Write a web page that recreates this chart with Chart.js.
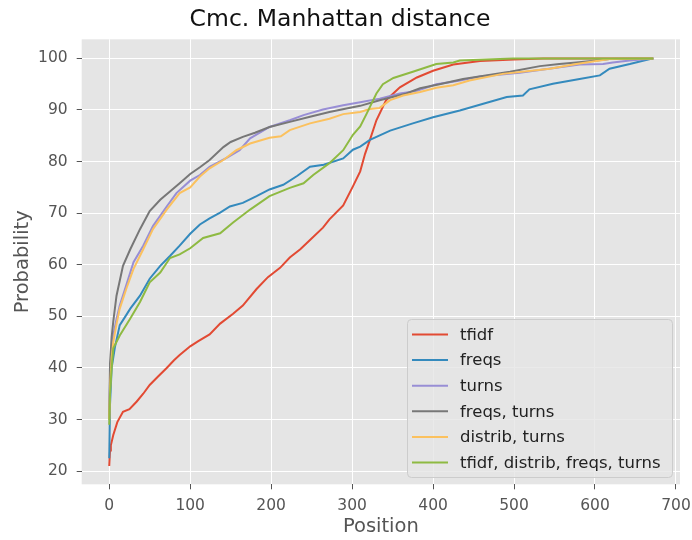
<!DOCTYPE html>
<html>
<head>
<meta charset="utf-8">
<script src="https://cdn.jsdelivr.net/npm/chart.js@4"></script>
<style>
  html,body{margin:0;padding:0;background:#fff;}
  #c{display:block;}
</style>
</head>
<body>
<canvas id="c" width="692" height="540"></canvas>
<script>
// ─── DATA (position, probability %) ──────────────────────────────────────────
const tfidf=[[0,21],[1,24],[2,25],[5,27],[10,29.5],[17,31.5],[25,32],[34,33.5],[42,35],[50,36.7],[60,38.3],[71,40],[80,41.5],[87,42.5],[100,44.2],[110,45.2],[124,46.5],[137,48.6],[153,50.5],[165,52.1],[182,55.3],[196,57.6],[211,59.4],[223,61.4],[236,63],[248,64.8],[264,67.2],[272,68.8],[289,71.5],[301,75.2],[310,78.1],[316,81.5],[322,84.2],[330,88],[342,91.9],[359,94.4],[380,96.3],[400,97.6],[425,98.8],[458,99.5],[500,99.8],[536,100],[672,100]];
const freqs=[[0,22.5],[1,33],[3,40],[7,44],[13,48.3],[20,50],[26,51.5],[38,54],[50,57.3],[63,59.8],[75,61.7],[87,63.7],[100,66],[112,67.8],[124,69],[137,70.1],[149,71.3],[165,72],[182,73.3],[198,74.6],[215,75.5],[232,77.2],[248,79],[265,79.4],[289,80.6],[301,82.3],[310,82.9],[322,84.2],[347,86],[375,87.4],[400,88.6],[433,89.9],[462,91.2],[491,92.5],[511,92.8],[519,94],[548,95.1],[581,96],[606,96.7],[618,98],[643,98.9],[663,99.7],[672,100]];
const turns=[[0,30],[1,38],[3,43],[5,46.3],[9,49.5],[13,52.1],[21,56],[30,60.5],[42,63.7],[54,67.5],[71,71.3],[83,73.9],[100,76.3],[112,77.4],[124,79],[145,80.7],[161,82.2],[174,84.5],[198,86.7],[223,88],[240,89],[264,90.1],[289,90.9],[310,91.5],[334,92.2],[359,93.2],[380,93.7],[404,95],[430,95.6],[458,96.5],[507,97.2],[552,98.2],[581,98.8],[610,98.9],[622,99.2],[643,99.6],[672,100]];
const freqsTurns=[[0,30],[1,41],[3,46],[5,49],[9,54],[17,59.8],[26,63],[38,66.9],[50,70.4],[63,72.6],[75,74.2],[87,75.8],[100,77.6],[112,78.9],[124,80.3],[141,82.8],[150,83.8],[165,84.8],[180,85.6],[198,86.7],[223,87.7],[248,88.7],[272,89.6],[293,90.3],[310,90.8],[334,91.9],[367,93.2],[384,94.2],[408,95],[437,96],[449,96.3],[495,97.4],[532,98.5],[556,98.9],[577,99.2],[602,99.6],[618,99.9],[672,100]];
const distribTurns=[[0,30],[1,36],[3,42],[5,45],[9,48.5],[13,51.5],[21,55.3],[30,59.2],[42,63],[54,66.9],[71,70.7],[87,73.9],[100,75],[112,77.1],[124,78.7],[141,80.3],[157,82.2],[174,83.5],[198,84.6],[212,84.9],[223,86.1],[248,87.4],[272,88.3],[289,89.2],[310,89.6],[322,90.2],[334,90.4],[347,91.9],[363,92.8],[384,93.5],[404,94.3],[425,94.8],[445,95.7],[486,97],[544,98],[577,98.9],[618,99.9],[672,100]];
const allFeat=[[0,29],[1,35],[3,40],[5,43.8],[13,46.3],[26,49.6],[38,52.8],[50,56.6],[63,58.5],[75,61.3],[87,62],[100,63.2],[116,65.2],[137,66.1],[153,68.2],[174,70.7],[198,73.3],[223,74.9],[240,75.8],[252,77.4],[272,79.7],[289,82.2],[301,85.2],[310,86.8],[318,89.3],[330,93.2],[338,95],[351,96.2],[375,97.4],[404,98.9],[425,99.2],[433,99.6],[499,100],[672,100]];

const seriesLabels=['tfidf','freqs','turns','freqs, turns','distrib, turns','tfidf, distrib, freqs, turns'];
const seriesData=[tfidf,freqs,turns,freqsTurns,distribTurns,allFeat];
const seriesColors=['#E24A33','#348ABD','#988ED5','#777777','#FBC15E','#8EBA42'];
const xTicks=[0,100,200,300,400,500,600,700];
const yTicks=[20,30,40,50,60,70,80,90,100];

const FONT='"DejaVu Sans", sans-serif';

// ─── PLUGINS ─────────────────────────────────────────────────────────────────
const bgPlugin={id:'bg',beforeDraw(ch){
  const {ctx,chartArea:a}=ch;
  ctx.save();
  ctx.fillStyle='#fff';ctx.fillRect(0,0,ch.width,ch.height);
  ctx.fillStyle='#E5E5E5';ctx.fillRect(a.left,a.top,a.right-a.left,a.bottom-a.top);
  ctx.restore();
}};

const legendPlugin={id:'boxLegend',afterDraw(ch){
  const ctx=ch.ctx, ds=ch.data.datasets;
  const x0=407,y0=319,w=265,h=158,row=25.6;
  ctx.save();
  ctx.beginPath();
  ctx.roundRect(x0+0.5,y0+0.5,w,h,4);
  ctx.fillStyle='rgba(229,229,229,0.8)';ctx.fill();
  ctx.strokeStyle='#cccccc';ctx.lineWidth=1;ctx.stroke();
  ctx.font='16.5px '+FONT;ctx.textBaseline='middle';ctx.textAlign='left';
  ds.forEach((d,i)=>{
    const y=y0+15.5+i*row;
    ctx.strokeStyle=d.borderColor;ctx.lineWidth=2;
    ctx.beginPath();ctx.moveTo(x0+5,y);ctx.lineTo(x0+41,y);ctx.stroke();
    ctx.fillStyle='#222';
    ctx.fillText(d.label,x0+53,y+1);
  });
  ctx.restore();
}};

// ─── CHART ───────────────────────────────────────────────────────────────────
const tickFont={family:FONT,size:15.5};
new Chart(document.getElementById('c').getContext('2d'),{
  type:'line',
  data:{datasets:seriesData.map((s,i)=>({
    label:seriesLabels[i],
    data:s.map(p=>({x:p[0],y:p[1]})),
    borderColor:seriesColors[i],backgroundColor:seriesColors[i],
    borderWidth:2,pointRadius:0,tension:0,fill:false,
    order:seriesData.length-1-i
  }))},
  options:{
    responsive:false,animation:false,
    layout:{padding:{left:0,right:12,top:0,bottom:0}},
    plugins:{
      legend:{display:false},tooltip:{enabled:false},
      title:{display:true,text:'Cmc. Manhattan distance',color:'#111',
        font:{family:FONT,size:23.5,weight:'normal'},padding:{top:6,bottom:5.1}}
    },
    scales:{
      x:{type:'linear',min:-34,max:705,
        afterBuildTicks:s=>{s.ticks=xTicks.map(v=>({value:v}));},
        afterFit:s=>{s.height=55.7;s.paddingLeft=0;s.paddingRight=0;},
        ticks:{color:'#555',font:tickFont,padding:7,maxRotation:0,autoSkip:false,callback:v=>String(v)},
        grid:{color:'#fff',lineWidth:1,drawTicks:true,tickLength:5,tickColor:'#555'},
        border:{display:false},
        title:{display:true,text:'Position',color:'#555',font:{family:FONT,size:19.5},padding:{top:0,bottom:1}}
      },
      y:{type:'linear',min:17.45,max:103.7,
        afterBuildTicks:s=>{s.ticks=yTicks.map(v=>({value:v}));},
        afterFit:s=>{s.width=81.7;s.paddingTop=0;s.paddingBottom=0;},
        ticks:{color:'#555',font:tickFont,padding:9,autoSkip:false,callback:v=>String(v)},
        grid:{color:'#fff',lineWidth:1,drawTicks:true,tickLength:5,tickColor:'#555'},
        border:{display:false},
        title:{display:true,text:'Probability',color:'#555',font:{family:FONT,size:19.5},padding:{top:11,bottom:0}}
      }
    }
  },
  plugins:[bgPlugin,legendPlugin]
});
</script>
</body>
</html>
